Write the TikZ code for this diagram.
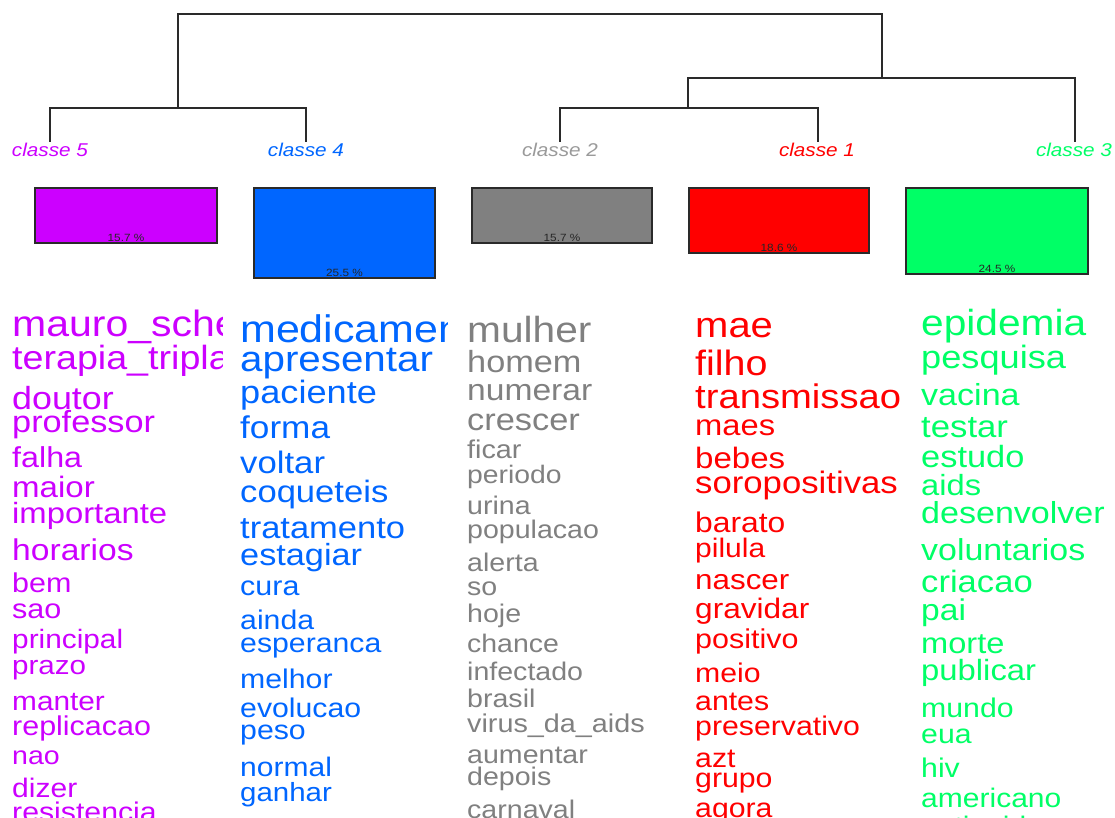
\documentclass[tikz,border=0pt]{standalone}
\usepackage{fontspec}
\newfontfamily\wordfont[FakeStretch=1.12]{Liberation Sans}
\usetikzlibrary{calc}
\definecolor{cl_five}{HTML}{CC00FF}
\definecolor{cl_four}{HTML}{0066FF}
\definecolor{cl_two}{HTML}{808080}
\definecolor{cl_one}{HTML}{FF0000}
\definecolor{cl_three}{HTML}{00FF66}
\definecolor{tree_gray}{HTML}{2A2A2A}

\tikzset{
  tree/.style={draw=tree_gray, line width=1.6pt},
  bar/.style={draw=tree_gray, line width=1.4pt},
  clabel/.style={anchor=base, inner sep=0, font=\wordfont\itshape\fontsize{18.5}{18.5}\selectfont},
  pct/.style={anchor=south, inner sep=1.5pt, text=black!85, font=\wordfont\fontsize{10.5}{10.5}\selectfont},
  word/.style={anchor=base west, inner sep=0}
}

\begin{document}
\begin{tikzpicture}[x=1pt, y=-1pt]

\useasboundingbox (0,0) rectangle (1115,818);

% leaves of the tree, one above each class label
\coordinate (leaf5) at (50,142);
\coordinate (leaf4) at (306,142);
\coordinate (leaf2) at (560,142);
\coordinate (leaf1) at (818,142);
\coordinate (leaf3) at (1075,142);

% dendrogram
\draw[tree] (leaf5) |- (leaf4 |- 0,108) -- (leaf4);
\draw[tree] (178,108) |- (882,14) -- (882,78);
\draw[tree] (leaf2) |- (leaf1 |- 0,108) -- (leaf1);
\draw[tree] (688,108) |- (leaf3 |- 0,78) -- (leaf3);

% class labels
\node[clabel, text=cl_five]  (lab5) at (50,157)   {classe 5};
\node[clabel, text=cl_four]  (lab4) at (306,157)  {classe 4};
\node[clabel, text=cl_two!80] (lab2) at (560,157) {classe 2};
\node[clabel, text=cl_one]   (lab1) at (817,157)  {classe 1};
\node[clabel, text=cl_three] (lab3) at (1074,157) {classe 3};

% bars with the share of each class
\draw[bar, fill=cl_five]  (35,188)  rectangle (217,243);
\draw[bar, fill=cl_four]  (254,188) rectangle (435,278);
\draw[bar, fill=cl_two]   (472,188) rectangle (652,243);
\draw[bar, fill=cl_one]   (689,188) rectangle (869,253);
\draw[bar, fill=cl_three] (906,188) rectangle (1088,274);
\node[pct] (pct5) at (126,243) {15.7 \%};
\node[pct] (pct4) at (344.5,278) {25.5 \%};
\node[pct] (pct2) at (562,243) {15.7 \%};
\node[pct] (pct1) at (779,253) {18.6 \%};
\node[pct] (pct3) at (997,274) {24.5 \%};

% classe 5
\begin{scope}
\clip (0,290) rectangle (222,818);
\foreach \y/\s/\w [count=\n] in {
  336/36.6/mauro\_schechter, 369/33.6/terapia\_tripla, 409/32/doutor,
  432/30.6/professor, 467/28.8/falha, 497/29.5/maior, 523/29.3/importante,
  560/30/horarios, 592/27.2/bem, 618/27.3/sao, 648/26.6/principal,
  674/26.4/prazo, 710/26.6/manter, 735/27.2/replicacao, 764/25.5/nao,
  797/26.8/dizer, 821/27/resistencia}
  \node[word, text=cl_five, font=\wordfont\fontsize{\s}{\s}\selectfont]
    (cfive-\n) at (12,\y) {\w};
\end{scope}

% classe 4
\begin{scope}
\clip (230,290) rectangle (447,818);
\foreach \y/\s/\w [count=\n] in {
  342/38.4/medicamento, 371/36/apresentar, 403/32.3/paciente,
  438/31.4/forma, 473/31/voltar, 502/30.9/coqueteis, 538/30.8/tratamento,
  565/30.6/estagiar, 595/27.2/cura, 629/27/ainda, 652/27/esperanca,
  688/27/melhor, 717/27/evolucao, 739/27/peso, 776/26.8/normal,
  801/26.3/ganhar}
  \node[word, text=cl_four, font=\wordfont\fontsize{\s}{\s}\selectfont]
    (cfour-\n) at (240,\y) {\w};
\end{scope}

% classe 2
\begin{scope}
\clip (460,290) rectangle (677,818);
\foreach \y/\s/\w [count=\n] in {
  342/36.3/mulher, 372/30.6/homem, 400/30/numerar, 430/30.7/crescer,
  458/25.7/ficar, 483/25.3/periodo, 514/25.5/urina, 538/25.5/populacao,
  571/25.5/alerta, 595/25.5/so, 622/25.5/hoje, 652/25.4/chance,
  680/25.5/infectado, 707/25.5/brasil, 732/25.7/virus\_da\_aids,
  763/25.5/aumentar, 785/25.5/depois, 818/25.5/carnaval}
  \node[word, text=cl_two, font=\wordfont\fontsize{\s}{\s}\selectfont]
    (ctwo-\n) at (467,\y) {\w};
\end{scope}

% classe 1
\begin{scope}
\clip (685,290) rectangle (905,818);
\foreach \y/\s/\w [count=\n] in {
  337/35.7/mae, 375/35.2/filho, 408/34.1/transmissao, 435/29.2/maes,
  468/29.5/bebes, 493/31/soropositivas, 532/28.4/barato, 557/26.8/pilula,
  589/28/nascer, 618/28.2/gravidar, 648/27.2/positivo, 682/27/meio,
  710/27/antes, 735/27/preservativo, 767/27/azt, 787/27/grupo,
  817/27/agora}
  \node[word, text=cl_one, font=\wordfont\fontsize{\s}{\s}\selectfont]
    (cone-\n) at (695,\y) {\w};
\end{scope}

% classe 3
\begin{scope}
\clip (910,290) rectangle (1115,818);
\foreach \y/\s/\w [count=\n] in {
  335/36.3/epidemia, 368/32.3/pesquisa, 405/30.4/vacina, 437/31/testar,
  467/30.7/estudo, 495/29.2/aids, 523/30.4/desenvolver,
  560/30.3/voluntarios, 592/30.9/criacao, 620/30/pai, 653/29.1/morte,
  680/29.3/publicar, 717/27/mundo, 743/27/eua, 777/27/hiv,
  807/26.8/americano, 835/26.8/anti\_aids}
  \node[word, text=cl_three, font=\wordfont\fontsize{\s}{\s}\selectfont]
    (cthree-\n) at (921,\y) {\w};
\end{scope}

\end{tikzpicture}
\end{document}
